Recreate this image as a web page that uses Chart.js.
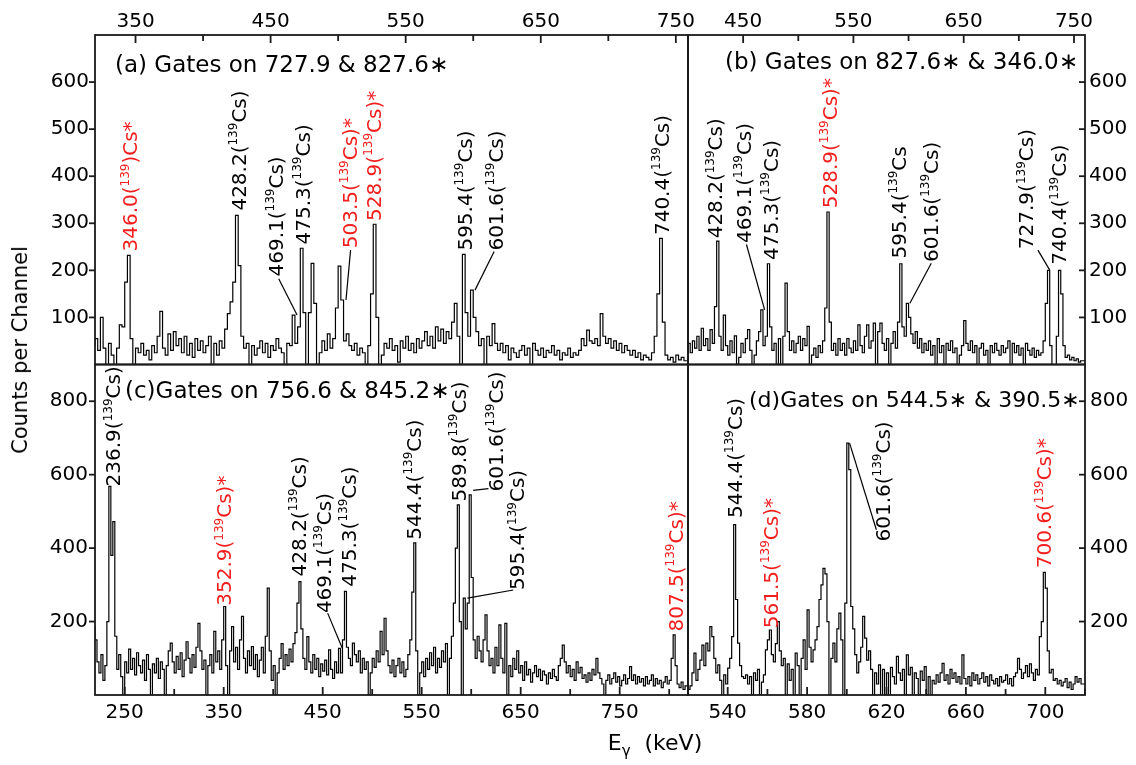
<!DOCTYPE html>
<html>
<head>
<meta charset="utf-8">
<script src="https://cdn.jsdelivr.net/npm/chart.js@4.4.1/dist/chart.umd.min.js"></script>
<style>
  body { margin: 0; background: #fff; }
  #fig { position: relative; width: 1136px; height: 765px; overflow: hidden; background: #fff; }
  #fig canvas { position: absolute; left: 0; top: 0; }
  .axt { position: absolute; font-family: "DejaVu Sans"; font-size: 21px; color: #000; white-space: nowrap; }
  #ytitle { left: 20px; top: 350px; transform: translate(-50%, -50%) rotate(-90deg); }
  #xtitle { left: 655px; top: 745px; transform: translate(-50%, -50%); font-size: 22px; }
  #xtitle sub { font-size: 15px; }
</style>
</head>
<body>
<div id="fig">
  <canvas id="pa" width="1136" height="765"></canvas>
  <canvas id="pb" width="1136" height="765"></canvas>
  <canvas id="pc" width="1136" height="765"></canvas>
  <canvas id="pd" width="1136" height="765"></canvas>
  <div class="axt" id="ytitle">Counts per Channel</div>
  <div class="axt" id="xtitle">E<sub>γ</sub>&nbsp; (keV)</div>
</div>
<script>
// =====================================================
// DATA – counts per channel
// =====================================================

// (a) gates on 727.9 & 827.6*, 2 keV channels from 320 keV
const startA = 320, binA = 2;
const countsA = [
  40, 55, 30, 100, 35, 0, 45, 20, 0, 35,
  84, 80, 175, 232, 55, 0, 35, 25, 45, 20,
  30, 10, 40, 25, 60, 113, 35, 20, 65, 30,
  70, 40, 55, 25, 60, 20, 45, 15, 55, 30,
  50, 25, 40, 60, 0, 45, 20, 50, 35, 75,
  108, 133, 175, 317, 210, 60, 35, 45, 0, 40,
  20, 35, 50, 25, 45, 15, 40, 30, 55, 35,
  25, 0, 45, 40, 105, 45, 80, 247, 110, 0,
  110, 215, 130, 0, 25, 50, 30, 65, 35, 55,
  120, 209, 137, 50, 65, 40, 30, 45, 20, 35,
  25, 0, 40, 150, 298, 100, 0, 20, 45, 35,
  55, 30, 40, 5, 50, 35, 60, 30, 45, 25,
  55, 35, 50, 70, 40, 60, 35, 80, 50, 75,
  45, 70, 55, 90, 130, 60, 0, 234, 110, 60,
  158, 100, 70, 40, 55, 0, 60, 40, 87, 45,
  30, 45, 25, 40, 10, 35, 25, 15, 30, 40,
  20, 35, 0, 45, 30, 20, 35, 15, 30, 25,
  40, 20, 30, 10, 25, 20, 35, 15, 25, 20,
  30, 55, 40, 73, 50, 45, 55, 40, 108, 60,
  45, 55, 35, 50, 30, 45, 25, 40, 30, 20,
  30, 15, 25, 10, 20, 15, 10, 25, 60, 150,
  268, 90, 20, 10, 15, 5, 20, 10, 15, 8
];

// (b) gates on 827.6* & 346.0*, 2 keV channels from 400 keV
const startB = 400, binB = 2;
const countsB = [
  0, 45, 25, 50, 35, 60, 30, 77, 40, 55,
  30, 74, 45, 123, 262, 60, 30, 105, 40, 20,
  50, 25, 61, 0, 15, 45, 25, 55, 74, 30,
  0, 20, 50, 70, 116, 40, 60, 214, 80, 30,
  45, 0, 55, 0, 60, 173, 70, 30, 50, 25,
  45, 60, 30, 55, 40, 81, 0, 20, 35, 15,
  40, 25, 50, 120, 324, 90, 30, 45, 20, 55,
  30, 45, 20, 55, 35, 25, 50, 30, 84, 40,
  25, 60, 84, 35, 50, 88, 0, 70, 88, 45,
  30, 55, 0, 45, 70, 35, 90, 214, 80, 60,
  130, 100, 65, 45, 70, 35, 55, 25, 45, 30,
  50, 20, 40, 0, 55, 25, 40, 0, 45, 30,
  50, 25, 35, 0, 20, 40, 93, 45, 30, 50,
  25, 40, 0, 35, 45, 20, 30, 0, 40, 25,
  45, 30, 20, 40, 25, 35, 50, 0, 45, 25,
  40, 20, 35, 0, 45, 30, 20, 35, 15, 30,
  20, 25, 50, 130, 200, 40, 0, 0, 60, 200,
  150, 40, 15, 20, 10, 15, 8, 12, 5, 8
];

// (c) gates on 756.6 & 845.2*, 2 keV channels from 220 keV
const startC = 220, binC = 2;
const countsC = [
  186, 150, 90, 60, 110, 40, 80, 200, 568, 380,
  472, 160, 70, 110, 50, 0, 90, 60, 125, 70,
  100, 55, 115, 80, 60, 95, 40, 110, 70, 0,
  85, 60, 100, 45, 90, 70, 0, 80, 120, 141,
  90, 60, 105, 70, 115, 50, 95, 145, 100, 60,
  110, 75, 130, 195, 120, 70, 95, 0, 80, 110,
  60, 173, 90, 120, 70, 150, 241, 80, 0, 120,
  186, 90, 130, 70, 150, 214, 100, 60, 120, 80,
  132, 70, 110, 50, 95, 130, 60, 160, 291, 120,
  40, 80, 0, 60, 100, 140, 70, 110, 80, 125,
  90, 140, 170, 250, 309, 180, 100, 70, 159, 90,
  60, 110, 70, 100, 50, 85, 65, 95, 55, 123,
  70, 45, 90, 60, 127, 60, 150, 282, 130, 100,
  80, 141, 110, 90, 120, 60, 100, 70, 90, 0,
  60, 100, 75, 120, 90, 173, 110, 209, 120, 80,
  60, 95, 50, 80, 100, 60, 90, 50, 70, 110,
  150, 280, 414, 120, 0, 60, 90, 50, 100, 70,
  115, 80, 130, 60, 100, 75, 120, 90, 140, 0,
  100, 160, 250, 400, 518, 200, 0, 264, 180, 250,
  545, 320, 150, 100, 160, 120, 90, 150, 218, 120,
  80, 100, 60, 130, 80, 191, 100, 60, 195, 0,
  80, 50, 100, 70, 120, 60, 80, 40, 90, 55,
  70, 35, 60, 80, 50, 70, 40, 65, 55, 30,
  60, 45, 70, 50, 40, 80, 100, 136, 90, 60,
  80, 50, 70, 40, 90, 60, 75, 45, 55, 35,
  60, 40, 70, 55, 100, 60, 45, 30, 0, 40,
  55, 30, 45, 60, 35, 50, 25, 40, 55, 30,
  45, 77, 40, 55, 30, 50, 35, 45, 25, 50,
  30, 40, 55, 25, 45, 30, 40, 20, 35, 50,
  30, 40, 100, 164, 80, 30, 20, 35, 15, 25
];

// (d) gates on 544.5* & 390.5*, 1 keV channels from 520 keV
const startD = 520, binD = 1;
const countsD = [
  20, 15, 25, 60, 114, 40, 70, 95, 136, 80,
  141, 120, 186, 159, 100, 60, 82, 40, 0, 55,
  30, 73, 100, 159, 464, 260, 141, 80, 50, 45,
  55, 30, 50, 0, 60, 40, 70, 0, 35, 55,
  123, 150, 177, 110, 90, 140, 200, 120, 80, 100,
  0, 85, 40, 70, 0, 114, 80, 0, 100, 150,
  70, 232, 130, 90, 123, 150, 186, 260, 300, 345,
  330, 200, 0, 100, 141, 90, 180, 223, 150, 0,
  250, 686, 614, 241, 180, 110, 60, 90, 130, 214,
  155, 95, 120, 70, 0, 60, 30, 82, 0, 70,
  0, 60, 0, 75, 50, 30, 105, 60, 40, 70,
  0, 109, 55, 75, 0, 60, 45, 0, 65, 40,
  77, 0, 50, 0, 40, 30, 55, 35, 60, 86,
  40, 55, 30, 70, 45, 60, 35, 50, 30, 109,
  45, 30, 50, 25, 60, 40, 55, 30, 45, 60,
  35, 50, 25, 55, 40, 30, 45, 25, 50, 35,
  40, 55, 30, 45, 25, 50, 60, 100, 70, 45,
  60, 80, 50, 85, 60, 40, 70, 55, 159, 200,
  334, 291, 120, 60, 70, 40, 45, 30, 40, 25,
  35, 45, 20, 35, 15, 30, 50, 35, 45, 30
];

// tick labels
const topTicksA = [350, 450, 550, 650, 750];
const topTicksB = [450, 550, 650, 750];
const bottomTicksC = [250, 350, 450, 550, 650, 750];
const bottomTicksD = [540, 580, 620, 660, 700];
const countTicksTop = [100, 200, 300, 400, 500, 600];
const countTicksBottom = [200, 400, 600, 800];

// peak labels ("^139" = superscript mass number, "*" = new transition in red)
const peaksA = ["346.0(^139)Cs*", "428.2(^139Cs)", "469.1(^139Cs)", "475.3(^139Cs)", "503.5(^139Cs)*",
                "528.9(^139Cs)*", "595.4(^139Cs)", "601.6(^139Cs)", "740.4(^139Cs)"];
const peaksB = ["428.2(^139Cs)", "469.1(^139Cs)", "475.3(^139Cs)", "528.9(^139Cs)*", "595.4(^139Cs",
                "601.6(^139Cs)", "727.9(^139Cs)", "740.4(^139Cs)"];
const peaksC = ["236.9(^139Cs)", "352.9(^139Cs)*", "428.2(^139Cs)", "469.1(^139Cs)", "475.3(^139Cs)",
                "544.4(^139Cs)", "589.8(^139Cs)", "601.6(^139Cs)", "595.4(^139Cs)", "807.5(^139Cs)*"];
const peaksD = ["544.4(^139Cs)", "561.5(^139Cs)*", "601.6(^139Cs)", "700.6(^139Cs)*"];

// =====================================================
// LABEL PLACEMENT (keV, counts) and leader lines
// =====================================================
const placeA = [
  { e: 347.5, c: 240 }, { e: 427.6, c: 327 }, { e: 455, c: 187, line: [456, 182, 469.6, 105] },
  { e: 475, c: 255 }, { e: 510, c: 247, line: [509.2, 243, 505.8, 137] }, { e: 528, c: 305 },
  { e: 595, c: 242 }, { e: 618, c: 242, line: [615.5, 240, 601.3, 158] }, { e: 741, c: 275 }
];
const placeB = [
  { e: 426.5, c: 268 }, { e: 452, c: 258, line: [453, 255, 469.5, 116] }, { e: 477, c: 222 },
  { e: 530, c: 332 }, { e: 593, c: 225 }, { e: 622, c: 218, line: [620.6, 215, 601.2, 130] },
  { e: 708.5, c: 245, line: [717.3, 243, 727.9, 201] }, { e: 738.5, c: 212 }
];
const placeC = [
  { e: 240.5, c: 568 }, { e: 352.6, c: 243 }, { e: 428, c: 323 },
  { e: 453, c: 223, line: [455, 223, 469.7, 128] }, { e: 478.2, c: 295 }, { e: 544, c: 423 },
  { e: 589.5, c: 527 }, { e: 626.5, c: 554, line: [602, 557, 617.4, 562] },
  { e: 648.3, c: 286, line: [596.2, 264, 642.5, 286] }, { e: 808.7, c: 173 }
];
const placeD = [
  { e: 544.4, c: 482 }, { e: 562.8, c: 182 }, { e: 619, c: 418, line: [601.4, 686, 614.9, 450] },
  { e: 700.5, c: 345 }
];

// =====================================================
// PANELS
// =====================================================
const W = 1136, H = 765;
const FONT = '"DejaVu Sans"';
const RED = "#f21d1d";

const panels = [
  { id: "pa", start: startA, bin: binA, counts: countsA, xMin: 320, xMax: 759, yMax: 700,
    xPos: "top", yPos: "left", xTicks: topTicksA, minor: 50, yTicks: countTicksTop, yOut: true,
    area: [95, 35, 688, 364.5], title: "(a) Gates on 727.9 & 827.6∗", titleAt: [20, 31], titleSize: 23,
    peaks: peaksA, place: placeA, xPad: 1, yPad: 6 },
  { id: "pb", start: startB, bin: binB, counts: countsB, xMin: 400, xMax: 760, yMax: 700,
    xPos: "top", yPos: "right", xTicks: topTicksB, minor: 50, yTicks: countTicksTop, yOut: false,
    area: [688, 35, 1085, 364.5], title: "(b) Gates on 827.6∗ & 346.0∗", titleAt: [37, 28], titleSize: 23,
    peaks: peaksB, place: placeB, xPad: 1, yPad: 4 },
  { id: "pc", start: startC, bin: binC, counts: countsC, xMin: 220, xMax: 819, yMax: 900,
    xPos: "bottom", yPos: "left", xTicks: bottomTicksC, minor: 50, yTicks: countTicksBottom, yOut: true,
    area: [95, 364.5, 688, 695], title: "(c)Gates on 756.6 & 845.2∗", titleAt: [30, 27.5], titleSize: 23,
    peaks: peaksC, place: placeC, xPad: 6, yPad: 7 },
  { id: "pd", start: startD, bin: binD, counts: countsD, xMin: 520, xMax: 720, yMax: 900,
    xPos: "bottom", yPos: "right", xTicks: bottomTicksD, minor: 20, yTicks: countTicksBottom, yOut: false,
    area: [688, 364.5, 1085, 695], title: "(d)Gates on 544.5∗ & 390.5∗", titleAt: [61, 37], titleSize: 22,
    peaks: peaksD, place: placeD, xPad: 6, yPad: 5 }
];

// ---------- helpers ----------
function drawRotLabel(ctx, px, py, text, color, size) {
  ctx.save();
  ctx.translate(px, py);
  ctx.rotate(-Math.PI / 2);
  ctx.fillStyle = color;
  ctx.textBaseline = "middle";
  ctx.textAlign = "left";
  let cx = 0;
  text.split(/(\^\d+)/).forEach(part => {
    if (!part) return;
    if (part[0] === "^") {
      const sup = part.slice(1);
      ctx.font = `${Math.round(size * 0.62)}px ${FONT}`;
      ctx.fillText(sup, cx, -size * 0.33);
      cx += ctx.measureText(sup).width;
    } else {
      ctx.font = `${size}px ${FONT}`;
      ctx.fillText(part, cx, 0);
      cx += ctx.measureText(part).width;
    }
  });
  ctx.restore();
}

function panelPlugin(p) {
  return {
    id: "panel_" + p.id,
    afterDatasetsDraw(chart) {
      const { ctx, chartArea: a, scales: { x, y } } = chart;
      ctx.save();

      // peak labels + leader lines (leaders are always black)
      p.peaks.forEach((txt, i) => {
        const pl = p.place[i];
        const color = txt.includes("*") ? RED : "#000";
        if (pl.line) {
          ctx.strokeStyle = "#000";
          ctx.lineWidth = 1.2;
          ctx.beginPath();
          ctx.moveTo(x.getPixelForValue(pl.line[0]), y.getPixelForValue(pl.line[1]));
          ctx.lineTo(x.getPixelForValue(pl.line[2]), y.getPixelForValue(pl.line[3]));
          ctx.stroke();
        }
        drawRotLabel(ctx, x.getPixelForValue(pl.e), y.getPixelForValue(pl.c), txt, color, 20);
      });

      // frame
      ctx.strokeStyle = "#1a1a1a";
      ctx.lineWidth = 1.8;
      ctx.strokeRect(a.left, a.top, a.right - a.left, a.bottom - a.top);

      // energy ticks (inward)
      const yEdge = p.xPos === "top" ? a.top : a.bottom;
      const dir = p.xPos === "top" ? 1 : -1;
      for (let v = Math.ceil(p.xMin / p.minor) * p.minor; v <= p.xMax; v += p.minor) {
        const px = x.getPixelForValue(v);
        const len = p.xTicks.includes(v) ? 8 : 6;
        ctx.beginPath();
        ctx.moveTo(px, yEdge);
        ctx.lineTo(px, yEdge + dir * len);
        ctx.stroke();
      }

      // count ticks
      const xEdge = p.yPos === "left" ? a.left : a.right;
      let out = p.yPos === "left" ? -1 : 1;
      if (!p.yOut) out = -out;
      p.yTicks.forEach(v => {
        const py = y.getPixelForValue(v);
        ctx.beginPath();
        ctx.moveTo(xEdge, py);
        ctx.lineTo(xEdge + out * 6, py);
        ctx.stroke();
      });

      // panel title
      ctx.fillStyle = "#000";
      ctx.font = `${p.titleSize}px ${FONT}`;
      ctx.textBaseline = "middle";
      ctx.textAlign = "left";
      ctx.fillText(p.title, a.left + p.titleAt[0], a.top + p.titleAt[1]);
      ctx.restore();
    }
  };
}

function buildPanel(p) {
  const pts = p.counts.map((c, i) => ({ x: p.start + i * p.bin, y: c }));
  pts.push({ x: p.start + p.counts.length * p.bin, y: p.counts[p.counts.length - 1] });
  const [l, t, r, b] = p.area;
  // axis boxes take the margin on their side, padding takes the rest
  const pad = {
    left: p.yPos === "left" ? 0 : l,
    right: p.yPos === "right" ? 0 : W - r,
    top: p.xPos === "top" ? 0 : t,
    bottom: p.xPos === "bottom" ? 0 : H - b
  };
  const yBox = p.yPos === "left" ? l : W - r;
  const xBox = p.xPos === "top" ? t : H - b;
  const fixBox = s => {
    if (s.isHorizontal()) s.height = xBox; else s.width = yBox;
    s.paddingLeft = s.paddingRight = s.paddingTop = s.paddingBottom = 0;
  };
  const tickFont = { family: "DejaVu Sans", size: 20 };

  return new Chart(document.getElementById(p.id), {
    type: "line",
    data: {
      datasets: [{
        data: pts,
        stepped: "after",
        borderColor: "#000",
        borderWidth: 1.2,
        pointRadius: 0,
        fill: false
      }]
    },
    options: {
      responsive: false,
      animation: false,
      events: [],
      layout: { padding: pad },
      plugins: { legend: { display: false }, tooltip: { enabled: false } },
      scales: {
        x: {
          type: "linear", position: p.xPos, min: p.xMin, max: p.xMax,
          grid: { display: false, drawTicks: false, tickLength: 0 },
          border: { display: false },
          ticks: { font: tickFont, color: "#000", padding: p.xPad, maxRotation: 0, autoSkip: false },
          afterBuildTicks: s => { s.ticks = p.xTicks.map(v => ({ value: v })); },
          afterFit: fixBox
        },
        y: {
          type: "linear", position: p.yPos, min: 0, max: p.yMax,
          grid: { display: false, drawTicks: false, tickLength: 0 },
          border: { display: false },
          ticks: { font: tickFont, color: "#000", padding: p.yPad, autoSkip: false },
          afterBuildTicks: s => { s.ticks = p.yTicks.map(v => ({ value: v })); },
          afterFit: fixBox
        }
      }
    },
    plugins: [panelPlugin(p)]
  });
}

panels.forEach(buildPanel);
</script>
</body>
</html>
